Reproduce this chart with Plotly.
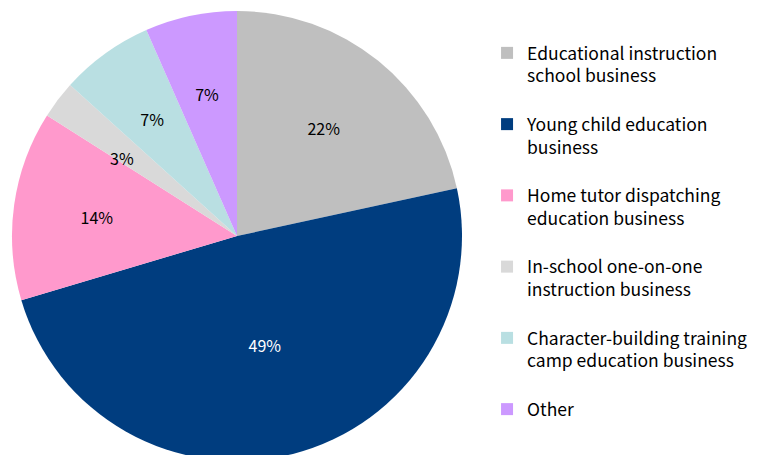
import plotly.graph_objects as go

categories = [
    "Educational instruction<br>school business<br> ",
    "Young child education<br>business<br> ",
    "Home tutor dispatching<br>education business<br> ",
    "In-school one-on-one<br>instruction business<br> ",
    "Character-building training<br>camp education business<br> ",
    "Other",
]
shares = [21.6, 48.8, 13.6, 2.7, 6.7, 6.6]
colors = ["#BFBFBF", "#003D7F", "#FF99CC", "#D9D9D9", "#B9DFE2", "#CC99FF"]
label_colors = ["#000000", "#FFFFFF", "#000000", "#000000", "#000000", "#000000"]

W, H = 767, 472
cx, cy, r = 237, 236, 225
PCT = "%{percent:.0%}"


def dom(rad):
    return dict(x=[(cx - rad) / W, (cx + rad) / W],
                y=[(H - cy - rad) / H, (H - cy + rad) / H])


def tmpl(show):
    return [PCT if s else "" for s in show]


fig = go.Figure()
# main pie (slices + labels of the big slices)
fig.add_trace(go.Pie(
    labels=categories, values=shares, sort=False, direction="clockwise", rotation=0,
    marker=dict(colors=colors, line=dict(width=0)),
    texttemplate=tmpl([1, 1, 0, 0, 0, 0]),
    textposition="inside", insidetextorientation="horizontal",
    insidetextfont=dict(color=label_colors, size=16, family="Noto Sans CJK JP"),
    domain=dom(r), hoverinfo="skip",
))
# transparent overlay pies that only carry labels of the smaller slices
for rad, show, pos in [(122, [0, 0, 0, 1, 0, 0], "outside"),
                       (175, [0, 0, 0, 0, 1, 1], "inside"),
                       (200, [0, 0, 1, 0, 0, 0], "inside")]:
    fig.add_trace(go.Pie(
        labels=categories, values=shares, sort=False, direction="clockwise", rotation=0,
        marker=dict(colors=["rgba(0,0,0,0)"] * len(shares), line=dict(width=0)),
        texttemplate=tmpl(show),
        textposition=pos, insidetextorientation="horizontal",
        insidetextfont=dict(color=label_colors, size=16, family="Noto Sans CJK JP"),
        outsidetextfont=dict(color="#000000", size=16, family="Noto Sans CJK JP"),
        domain=dom(rad), hoverinfo="skip", showlegend=False,
    ))

fig.update_layout(
    width=W, height=H,
    margin=dict(l=0, r=0, t=0, b=0),
    paper_bgcolor="white",
    plot_bgcolor="white",
    font=dict(family="Noto Sans CJK JP", color="#000000"),
    legend=dict(
        x=0.635, xanchor="left", y=1 - 35 / H, yanchor="top", valign="top",
        font=dict(size=17.5, color="#000000", family="Noto Sans CJK JP"),
        itemclick=False, itemdoubleclick=False,
        bgcolor="rgba(0,0,0,0)",
    ),
    showlegend=True,
)

fig.write_html("out.html", post_script="document.body.style.overflow='hidden';document.documentElement.style.overflow='hidden';")
